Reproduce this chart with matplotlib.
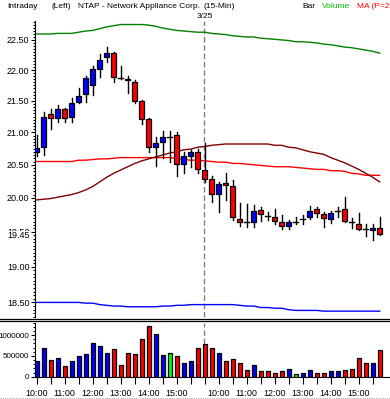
import matplotlib
matplotlib.use('Agg')
import matplotlib.pyplot as plt
from matplotlib.patches import Rectangle
from matplotlib.lines import Line2D
from matplotlib.ticker import FixedLocator, NullFormatter
from matplotlib import font_manager
import numpy as np

# pick a narrow font if there is one
names = {f.name for f in font_manager.fontManager.ttflist}
fams = [f for f in ['Liberation Sans Narrow', 'Liberation Sans', 'DejaVu Sans'] if f in names]
plt.rcParams['font.family'] = fams

# 15-min bars, 3/24 10:00 -> 3/25 15:45
opens = [20.69, 20.77, 21.29, 21.22, 21.37, 21.24, 21.48, 21.61, 21.76, 22.02,
         22.21, 22.29, 21.88, 21.85, 21.81, 21.50, 21.21, 20.77, 20.85, 20.93,
         20.96, 20.51, 20.64, 20.69, 20.42, 20.28, 20.06, 20.23, 20.18, 19.69,
         19.65, 19.64, 19.82, 19.74, 19.72, 19.65, 19.58, 19.65, 19.68, 19.71,
         19.84, 19.76, 19.69, 19.80, 19.83, 19.66, 19.62, 19.55, 19.52, 19.56]
highs = [20.96, 21.33, 21.37, 21.43, 21.38, 21.54, 21.70, 21.91, 22.07, 22.27,
         22.38, 22.30, 22.06, 21.90, 21.83, 21.52, 21.22, 20.93, 21.03, 21.03,
         21.01, 20.69, 20.73, 20.74, 20.83, 20.33, 20.24, 20.38, 20.27, 19.92,
         19.91, 19.89, 19.87, 19.79, 19.83, 19.74, 19.67, 19.72, 19.74, 19.88,
         19.87, 19.79, 19.81, 19.87, 20.01, 19.70, 19.77, 19.62, 19.62, 19.71]
lows = [20.64, 20.65, 21.06, 21.16, 21.16, 21.17, 21.46, 21.49, 21.60, 21.88,
        22.14, 21.80, 21.85, 21.62, 21.46, 21.13, 20.69, 20.48, 20.61, 20.55,
        20.33, 20.37, 20.47, 20.38, 20.24, 19.94, 19.79, 19.97, 19.68, 19.58,
        19.57, 19.57, 19.66, 19.68, 19.61, 19.54, 19.54, 19.62, 19.62, 19.69,
        19.72, 19.57, 19.63, 19.71, 19.65, 19.55, 19.53, 19.44, 19.38, 19.46]
closes = [20.76, 21.25, 21.22, 21.37, 21.23, 21.47, 21.58, 21.87, 22.02, 22.16,
          22.29, 21.88, 21.87, 21.83, 21.50, 21.21, 20.77, 20.83, 20.93, 20.93,
          20.51, 20.63, 20.69, 20.43, 20.29, 20.06, 20.21, 20.19, 19.71, 19.64,
          19.64, 19.80, 19.76, 19.73, 19.66, 19.59, 19.64, 19.65, 19.69, 19.81,
          19.77, 19.70, 19.77, 19.81, 19.66, 19.65, 19.54, 19.54, 19.56, 19.47]
volumes = [376000, 680000, 390000, 460000, 250000, 380000, 490000, 540000, 820000, 730000,
           570000, 660000, 270000, 570000, 540000, 900000, 1220000, 1020000, 510000, 580000,
           490000, 330000, 380000, 700000, 780000, 680000, 570000, 370000, 420000, 330000,
           150000, 270000, 130000, 130000, 80000, 130000, 180000, 60000, 80000, 150000,
           100000, 100000, 130000, 130000, 150000, 180000, 440000, 340000, 320000, 630000]

upper_band = [22.60, 22.60, 22.60, 22.61, 22.61, 22.61, 22.63, 22.65, 22.66, 22.69,
              22.72, 22.74, 22.76, 22.76, 22.76, 22.76, 22.75, 22.73, 22.70, 22.68,
              22.66, 22.65, 22.64, 22.63, 22.63, 22.61, 22.60, 22.59, 22.57, 22.56,
              22.55, 22.55, 22.53, 22.52, 22.51, 22.50, 22.49, 22.47, 22.47, 22.46,
              22.45, 22.43, 22.42, 22.40, 22.38, 22.37, 22.35, 22.33, 22.31, 22.28]
lower_band = [18.50, 18.50, 18.50, 18.50, 18.50, 18.50, 18.50, 18.49, 18.49, 18.47,
              18.46, 18.45, 18.45, 18.44, 18.44, 18.44, 18.44, 18.44, 18.45, 18.45,
              18.46, 18.46, 18.47, 18.47, 18.47, 18.47, 18.47, 18.47, 18.47, 18.46,
              18.45, 18.45, 18.43, 18.43, 18.42, 18.42, 18.40, 18.39, 18.39, 18.39,
              18.39, 18.38, 18.38, 18.38, 18.38, 18.38, 18.38, 18.38, 18.38, 18.38]
ma_long = [20.55, 20.55, 20.55, 20.55, 20.55, 20.55, 20.57, 20.57, 20.58, 20.59,
           20.59, 20.60, 20.61, 20.61, 20.61, 20.61, 20.61, 20.61, 20.61, 20.61,
           20.60, 20.58, 20.57, 20.57, 20.56, 20.55, 20.54, 20.54, 20.52, 20.52,
           20.51, 20.50, 20.49, 20.48, 20.47, 20.47, 20.47, 20.46, 20.45, 20.44,
           20.43, 20.43, 20.41, 20.41, 20.40, 20.37, 20.36, 20.34, 20.34, 20.34]
ma_short = [19.97, 19.98, 19.99, 20.01, 20.03, 20.05, 20.08, 20.12, 20.17, 20.24,
            20.31, 20.37, 20.42, 20.47, 20.52, 20.56, 20.59, 20.62, 20.65, 20.68,
            20.70, 20.73, 20.74, 20.77, 20.78, 20.80, 20.81, 20.82, 20.82, 20.82,
            20.82, 20.82, 20.82, 20.82, 20.80, 20.80, 20.77, 20.76, 20.73, 20.70,
            20.68, 20.66, 20.61, 20.57, 20.53, 20.48, 20.43, 20.37, 20.31, 20.24]

price_ticks = [22.5, 22.0, 21.5, 21.0, 20.5, 20.0, 19.5, 19.0, 18.5]
price_labels = ['22.50', '22.00', '21.50', '21.00', '20.50', '20.00', '19.50', '19.00', '18.50']
last_price = 19.45
time_ticks = list(range(0, 50, 2))
time_labels = {0: '10:00', 4: '11:00', 8: '12:00', 12: '13:00', 16: '14:00', 20: '15:00',
               26: '10:00', 30: '11:00', 34: '12:00', 38: '13:00', 42: '14:00', 46: '15:00'}
day_start = 24

W, H = 390, 399
fig = plt.figure(figsize=(W / 100, H / 100), dpi=100)
fig.patch.set_facecolor('white')

def box(x0, y0, x1, y1):
    return [x0 / W, 1 - y1 / H, (x1 - x0) / W, (y1 - y0) / H]

ax = fig.add_axes(box(35, 21, 390, 317))
axv = fig.add_axes(box(35, 322.5, 390, 376.7))

idx = np.arange(len(closes))
xlim = (-0.243, 50.47)
lab_fs = 6.5

# price panel
ax.set_yscale('log')
ax.axvline(day_start - 0.05, color='#808080', lw=1, ls=(0, (4, 2)), zorder=1)
ax.plot(idx, upper_band, color='#008000', lw=1, zorder=2)
ax.plot(idx, lower_band, color='#0000ff', lw=1, zorder=2)
ax.plot(idx, ma_long, color='#ff0000', lw=1, zorder=2)
ax.plot(idx, ma_short, color='#800000', lw=1, zorder=2)

bw = 0.64
for i in idx:
    o, h, l, c = opens[i], highs[i], lows[i], closes[i]
    ax.plot([i, i], [l, h], color='black', lw=1, zorder=3)
    if abs(c - o) < 0.015:
        ax.plot([i - bw / 2, i + bw / 2], [c, c], color='black', lw=1, zorder=4)
    else:
        col = '#0000ff' if c > o else '#ff0000'
        ax.add_patch(Rectangle((i - bw / 2, min(o, c)), bw, abs(c - o), facecolor=col,
                               edgecolor='black', lw=0.9, zorder=4))

ax.set_xlim(*xlim)
ax.set_ylim(18.30, 22.82)
ax.yaxis.set_major_locator(FixedLocator(price_ticks))
ax.set_yticklabels(price_labels)
ax.yaxis.set_minor_locator(FixedLocator(np.arange(18.30, 22.85, 0.05)))
ax.yaxis.set_minor_formatter(NullFormatter())
ax.tick_params(axis='y', which='major', direction='out', length=3, width=0.8, labelsize=lab_fs, pad=1)
ax.tick_params(axis='y', which='minor', direction='out', length=1.5, width=0.8)
ax.set_xticks([])
for s in ['top', 'right', 'bottom']:
    ax.spines[s].set_visible(False)
ax.spines['left'].set_linewidth(0.8)
ax.text(-0.0141, last_price, '19.45', transform=ax.get_yaxis_transform(), ha='right',
        va='center', fontsize=lab_fs, bbox=dict(fc='white', ec='none', pad=0.2))

# volume panel
vcols = ['#0000ff' if c > o else ('#ff0000' if c < o else '#00ff00') for o, c in zip(opens, closes)]
axv.axvline(day_start - 0.05, color='#808080', lw=1, ls=(0, (4, 2)), zorder=1)
axv.bar(idx, volumes, width=0.6, color=vcols, edgecolor='black', lw=0.9, zorder=3)
axv.set_xlim(*xlim)
axv.set_ylim(0, 1300000)
axv.set_yticks([0, 500000, 1000000])
axv.set_yticklabels(['0', '500000', '1000000'])
axv.yaxis.set_minor_locator(FixedLocator(np.arange(0, 1300001, 100000)))
axv.set_xticks(time_ticks)
axv.set_xticklabels([time_labels.get(t, '') for t in time_ticks])
axv.tick_params(axis='y', which='major', direction='out', length=3, width=0.8, labelsize=5.8, pad=1)
axv.tick_params(axis='y', which='minor', direction='out', length=1.5, width=0.8)
axv.tick_params(axis='x', direction='out', length=5, width=0.8, labelsize=lab_fs, pad=4)
for s in ['top', 'right']:
    axv.spines[s].set_visible(False)
axv.spines['left'].set_linewidth(0.8)
axv.spines['bottom'].set_linewidth(0.8)

# separators
for yy in [318.5, 321.3]:
    fig.add_artist(Line2D([0, 1], [1 - yy / H, 1 - yy / H], color='black', lw=0.9,
                          transform=fig.transFigure))
fig.add_artist(Line2D([0, 1], [1 - 397.5 / H, 1 - 397.5 / H], color='#b0b0b0', lw=0.8,
                      ls=(0, (1, 1)), transform=fig.transFigure))

# header
hy = 1 - 6.5 / H
fs = 6
fig.text(7 / W, hy, 'Intraday', fontsize=fs, va='center')
fig.text(52 / W, hy, '(Left)', fontsize=fs, va='center')
fig.text(78 / W, hy, 'NTAP - Network Appliance Corp.', fontsize=fs, va='center')
fig.text(203 / W, hy, '(15-Min)', fontsize=fs, va='center')
fig.text(302 / W, hy, 'Bar', fontsize=fs, va='center')
fig.text(322 / W, hy, 'Volume', fontsize=fs, va='center', color='#00c000')
fig.text(357 / W, hy, 'MA (P=20)', fontsize=fs, va='center', color='#ff0000')
fig.text(205 / W, 1 - 16.3 / H, '3/25', fontsize=fs, va='center', ha='center')

plt.savefig('out.png', dpi=100)
